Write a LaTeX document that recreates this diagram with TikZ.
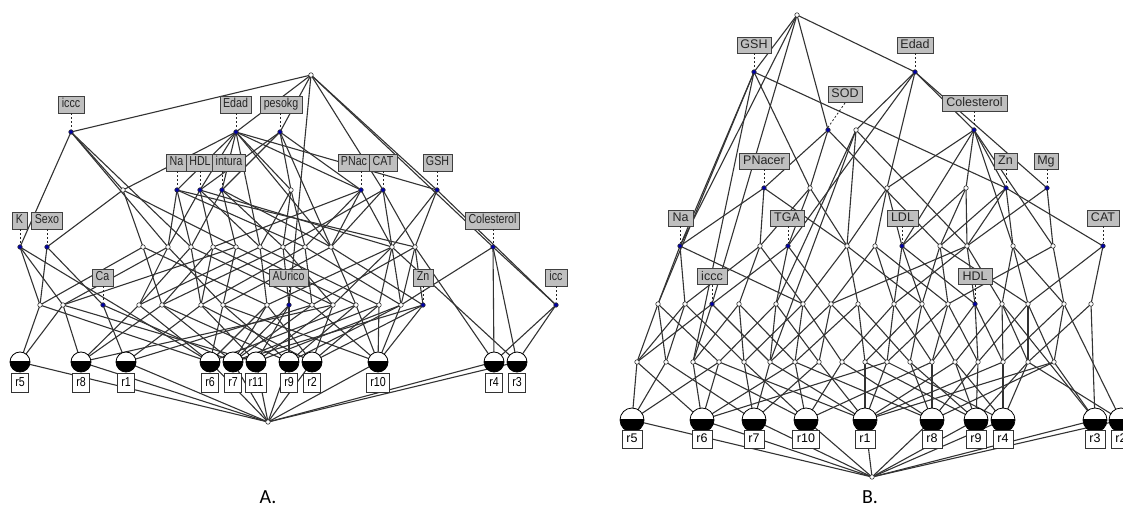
\documentclass[tikz,border=0pt]{standalone}
\usepackage{fontspec}
\setmainfont{Liberation Sans}
\newfontfamily\narrowfont[FakeStretch=0.82]{Liberation Sans}
\newfontfamily\capfont{Carlito}
\usetikzlibrary{backgrounds}

\tikzset{
  edge/.style={draw=black!80, line width=1.1pt},
  cn/.style={circle, draw=black!80, fill=white, inner sep=0pt, minimum size=4.5pt, line width=0.6pt},
  an/.style={cn, fill=blue!65!black},
  albl/.style={draw=black!75, fill=black!25, line width=0.9pt, inner xsep=3pt, inner ysep=0pt,
    minimum height=17pt, text height=9pt, text depth=2pt,
    font=\narrowfont\fontsize{13}{14}\selectfont, text=black!85},
  blbl/.style={albl, minimum height=16pt, font=\fontsize{12.5}{13}\selectfont},
  aobj/.style={circle, draw=black, fill=white, minimum size=20pt, inner sep=0pt, line width=0.8pt,
    path picture={\fill[black] ([yshift=1pt]path picture bounding box.west) rectangle (path picture bounding box.south east);}},
  bobj/.style={aobj, minimum size=24pt},
  aolbl/.style={draw=black!80, fill=white, line width=0.9pt, inner xsep=3.5pt, inner ysep=0pt,
    minimum height=19pt, text height=9pt, text depth=2pt,
    font=\narrowfont\fontsize{13}{14}\selectfont},
  bolbl/.style={aolbl, minimum height=18pt, inner xsep=4.5pt, font=\fontsize{12.5}{13}\selectfont},
  tag/.style={draw=black!85, line width=0.8pt, dash pattern=on 2pt off 2pt},
}

\begin{document}
\begin{tikzpicture}[x=1pt, y=-1pt]
\useasboundingbox (0,0) rectangle (1123,518);
\clip (0,0) rectangle (1123,518);

% ---------------- lattice A ----------------
\node[cn] (At) at (311,75) {};
\node[an] (Ai) at (71,132) {};
\node[an] (Ae) at (236,132) {};
\node[an] (Ap) at (280,132) {};
\foreach \n/\x/\s in {Ab1/123/cn, ANa/177/an, AHD/200/an, ACi/222/an, Ab5/291/cn,
    APN/361/an, ACA/383/an, AGS/437/an}
  \node[\s] (\n) at (\x,190) {};
\foreach \n/\x/\s in {AK/20/an, ASx/47/an, Ac1/143/cn, Ac2/168/cn, Ac3/191/cn, Ac4/213/cn,
    Ac5/236/cn, Ac6/260/cn, Ac7/283/cn, Ac8/305/cn, Ac9/331/cn, Ac10/392/cn, Ac11/415/cn, ACo/493/an}
  \node[\s] (\n) at (\x,247) {};
\foreach \n/\x/\s in {Ad1/40/cn, Ad2/63/cn, ACa/103/an, Ad3/139/cn, Ad4/162/cn, Ad5/201/cn,
    Ad6/223/cn, Ad7/267/cn, AAU/289/an, Ad8/312/cn, Ad9/333/cn, Ad10/356/cn, Ad11/379/cn,
    Ad12/401/cn, AZn/423/an, Aic/556/an}
  \node[\s] (\n) at (\x,305) {};
\foreach \n/\x in {Ar5/20, Ar8/81, Ar1/126, Ar6/210, Ar7/233, Ar11/256, Ar9/289, Ar2/312,
    Ar10/378, Ar4/494, Ar3/517}
  \node[aobj] (\n) at (\x,362) {};
\node[cn] (Abot) at (268,422) {};

% ---------------- lattice B ----------------
\node[cn] (Bt) at (797,15) {};
\node[an] (BG) at (754,72) {};
\node[an] (BE) at (915,72) {};
\node[an] (BS) at (828,130) {};
\node[cn] (Bu1) at (856,130) {};
\node[an] (BCo) at (974,130) {};
\foreach \n/\x/\s in {BPN/764/an, Bv1/810/cn, Bv2/887/cn, Bv3/966/cn, BZn/1006/an, BMg/1047/an}
  \node[\s] (\n) at (\x,188) {};
\foreach \n/\x/\s in {BNa/680/an, Bw1/760/cn, BTG/788/an, Bw2/847/cn, Bw3/875/cn, BLD/902/an,
    Bw4/940/cn, Bw5/967/cn, Bw6/1013/cn, Bw7/1053/cn, BCA/1103/an}
  \node[\s] (\n) at (\x,246) {};
\foreach \n/\x/\s in {Bx1/658/cn, Bx2/685/cn, Bic/712/an, Bx3/739/cn, Bx4/776/cn, Bx5/803/cn,
    Bx6/831/cn, Bx7/858/cn, Bx8/894/cn, Bx9/922/cn, Bx10/948/cn, BHD/975/an, Bx11/1002/cn,
    Bx12/1028/cn, Bx13/1064/cn, Bx14/1091/cn}
  \node[\s] (\n) at (\x,304) {};
\foreach \n/\x in {By1/637, By2/666, By3/693, By4/719, By5/744, By6/770, By7/795, By8/819,
    By9/842, By10/865, By11/887, By12/910, By13/932, By14/955, By15/978, By16/1003,
    By17/1028, By18/1054}
  \node[cn] (\n) at (\x,362) {};
\foreach \n/\x in {Br5/632, Br6/702, Br7/754, Br10/806, Br1/865, Br8/932, Br9/976, Br4/1003,
    Br3/1095, Br2/1121}
  \node[bobj] (\n) at (\x,420) {};
\node[cn] (Bbot) at (872,477) {};

% ---------------- connectors ----------------
\begin{pgfonlayer}{background}
\foreach \u/\v in {
  At/Ai, At/Ae, At/Ap, At/AAU, At/ACA, At/AGS, At/ACo,
  Ai/AK, Ai/Ab1, Ai/Ac2, Ai/Ac3,
  Ae/Ab1, Ae/ANa, Ae/AHD, Ae/ACi, Ae/Ab5, Ae/APN, Ae/AGS, Ae/Ac6, Ae/Ac9,
  Ap/AHD, Ap/ACi, Ap/Ab5, Ap/Ac9, Ap/APN,
  Ab1/ASx, Ab1/Ac1, Ab1/Ac5,
  ANa/Ac2, ANa/Ac3, ANa/Ac8, ANa/Ac11,
  AHD/Ac2, AHD/Ac4, AHD/Ac6, AHD/Ac10,
  ACi/Ac3, ACi/Ac5, ACi/Ac7, ACi/Ac9,
  Ab5/Ac6, Ab5/Ac7, Ab5/Ac8,
  APN/Ac4, APN/Ac8, APN/Ac9, APN/Ac10,
  ACA/Ac7, ACA/Ac9, ACA/Ac11, ACA/Ad12,
  AGS/Ac10, AGS/Ac11, AGS/Aic,
  AK/Ad1, AK/Ad2, AK/Ar6,
  ASx/ACa, ASx/Ad1,
  Ac1/Ad1, Ac1/Ad4, Ac1/Ad7,
  Ac2/Ad2, Ac2/Ad3, Ac2/Ad6,
  Ac3/Ad3, Ac3/Ad5, Ac3/Ad8,
  Ac4/Ad4, Ac4/Ad5, Ac4/Ad9,
  Ac5/Ad2, Ac5/Ad6, Ac5/Ad10,
  Ac6/Ad3, Ac6/Ad7, Ac6/Ad11,
  Ac7/Ad4, Ac7/AAU, Ac7/Ad9,
  Ac8/Ad5, Ac8/Ad8, Ac8/Ad12,
  Ac9/Ad6, Ac9/Ad10, Ac9/AZn,
  Ac10/Ad7, Ac10/Ad9, Ac10/Ad11, Ac10/Ar3,
  Ac11/Ad8, Ac11/Ad12, Ac11/AZn, Ac11/Ar4,
  ACo/Ad12, ACo/Aic, ACo/Ar4, ACo/Ar3,
  Ad1/Ar5, Ad1/Ar6,
  Ad2/Ar5, Ad2/Ar8, Ad2/Ar11,
  ACa/Ar1, ACa/Ar7,
  Ad3/Ar8, Ad3/Ar6,
  Ad4/Ar8, Ad4/Ar7, Ad4/Ar9,
  Ad5/Ar1, Ad5/Ar11, Ad5/Ar2,
  Ad6/Ar6, Ad6/Ar9, Ad6/Ar10,
  Ad7/Ar6, Ad7/Ar7, Ad7/Ar2,
  AAU/Ar9, AAU/Ar7, AAU/Ar11,
  Ad8/Ar1, Ad8/Ar7, Ad8/Ar10,
  Ad9/Ar8, Ad9/Ar11, Ad9/Ar2,
  Ad10/Ar6, Ad10/Ar9, Ad10/Ar10,
  Ad11/Ar7, Ad11/Ar2, Ad11/Ar10,
  Ad12/Ar11, Ad12/Ar10, Ad12/Ar9,
  AZn/Ar2, AZn/Ar10, AZn/Ar7,
  Aic/Ar4, Aic/Ar3,
  Ar5/Abot, Ar8/Abot, Ar1/Abot, Ar6/Abot, Ar7/Abot, Ar11/Abot, Ar9/Abot, Ar2/Abot,
  Ar10/Abot, Ar4/Abot, Ar3/Abot}
  \draw[edge] (\u.center) -- (\v.center);
\foreach \u/\v in {
  Bt/BG, Bt/BE, Bt/BS, Bt/BNa, Bt/Bic,
  BG/BNa, BG/Bx1, BG/Bv1, BG/BZn, BG/By3,
  BE/BCo, BE/BMg, BE/Bu1, BE/BTG, BE/Bv2,
  BS/BPN, BS/Bv1, BS/Bw4,
  Bu1/Bx4, Bu1/By6, Bu1/Bw5, Bu1/Bw2,
  BCo/Bv2, BCo/BLD, BCo/Bv3, BCo/Bw6, BCo/Bw7, BCo/BZn,
  BPN/BNa, BPN/Bw1, BPN/Bw2,
  Bv1/BTG, Bv1/Bw2, Bv1/Bw1,
  Bv2/Bw3, Bv2/BLD, Bv2/Bw2,
  Bv3/Bw4, Bv3/Bw5, Bv3/BLD,
  BZn/Bw5, BZn/Bw4, BZn/Bw6, BZn/BCA,
  BMg/Bw7, BMg/Bw5,
  BNa/Bx1, BNa/Bx2, BNa/Bx5,
  Bw1/Bx2, Bw1/Bx3, Bw1/Bx5,
  BTG/Bic, BTG/Bx4, BTG/Bx6,
  Bw2/Bx5, Bw2/Bx7, Bw2/Bx9,
  Bw3/Bx6, Bw3/Bx8, Bw3/Bx10,
  BLD/Bx8, BLD/Bx9, BLD/BHD,
  Bw4/Bx9, Bw4/Bx10, Bw4/Bx12,
  Bw5/Bx8, Bw5/BHD, Bw5/Bx11, Bw5/Bx6,
  Bw6/Bx11, Bw6/Bx12, Bw6/Bx13,
  Bw7/Bx13, Bw7/Bx10,
  BCA/Bx14, BCA/Bx12,
  Bx1/By1, Bx1/By2, Bx1/By4,
  Bx2/By2, Bx2/By5, Bx2/By1,
  Bic/By1, Bic/By3, Bic/By6,
  Bx3/By3, Bx3/By5, Bx3/By7,
  Bx4/By4, Bx4/By6, Bx4/By8,
  Bx5/By5, Bx5/By7, Bx5/By9,
  Bx6/By6, Bx6/By8, Bx6/By11,
  Bx7/By7, Bx7/By10, Bx7/By12,
  Bx8/By9, Bx8/By11, Bx8/By13,
  Bx9/By10, Bx9/By12, Bx9/By14,
  Bx10/By11, Bx10/By13, Bx10/By15,
  BHD/By13, BHD/By15, BHD/By16,
  Bx11/By14, Bx11/By16, Bx11/By17, Bx11/Br3,
  Bx12/By15, Bx12/By17, Bx12/By18,
  Bx13/By16, Bx13/By18, Bx13/Br2,
  Bx14/Br3, Bx14/By17,
  By1/Br5, By1/Br6,
  By2/Br5, By2/Br7,
  By3/Br6, By3/Br10,
  By4/Br5, By4/Br6, By4/Br1,
  By5/Br7, By5/Br10,
  By6/Br7, By6/Br1,
  By7/Br6, By7/Br10, By7/Br8,
  By8/Br7, By8/Br1,
  By9/Br10, By9/Br8,
  By10/Br1, By10/Br9,
  By11/Br6, By11/Br1, By11/Br4,
  By12/Br8, By12/Br9,
  By13/Br8, By13/Br10,
  By14/Br1, By14/Br4, By14/Br9,
  By15/Br9, By15/Br8,
  By16/Br4, By16/Br1,
  By17/Br4, By17/Br2, By17/Br9,
  By18/Br8, By18/Br3, By18/Br1,
  Br5/Bbot, Br6/Bbot, Br7/Bbot, Br10/Bbot, Br1/Bbot, Br8/Bbot, Br9/Bbot, Br4/Bbot,
  Br3/Bbot, Br2/Bbot}
  \draw[edge] (\u.center) -- (\v.center);
\end{pgfonlayer}

% ---------------- attribute labels A ----------------
\node[albl, minimum width=26pt] (Lai) at (71,104.5) {iccc};
\node[albl, minimum width=29pt] (Lae) at (235.5,104.5) {Edad};
\node[albl, minimum width=42pt] (Lap) at (281,104.5) {pesokg};
\node[albl, minimum width=19pt] (Lana) at (176.5,162.5) {Na};
\node[albl, minimum width=28pt] (Lahd) at (200,162.5) {HDL};
\node[albl, minimum width=30pt] (Laci) at (229,162.5) {intura};
\node[albl, minimum width=30pt] (Lapn) at (354,162.5) {PNac};
\node[albl, minimum width=28pt] (Laca) at (383,162.5) {CAT};
\node[albl, minimum width=29pt] (Lags) at (437.5,162.5) {GSH};
\node[albl, minimum width=15pt] (Lak) at (19.5,220.5) {K};
\node[albl, minimum width=30pt] (Lasx) at (47,220.5) {Sexo};
\node[albl, minimum width=53pt] (Laco) at (492.5,220.5) {Colesterol};
\node[albl, minimum width=21pt] (Laca2) at (102.5,277.5) {Ca};
\node[albl, minimum width=39pt] (Laau) at (288.5,277.5) {AUrico};
\node[albl, minimum width=20pt] (Lazn) at (423,277.5) {Zn};
\node[albl, minimum width=22pt] (Laic) at (556,277.5) {icc};
\foreach \l/\n in {Lai/Ai, Lae/Ae, Lap/Ap, Lana/ANa, Lahd/AHD, Laci/ACi, Lapn/APN, Laca/ACA,
    Lags/AGS, Lak/AK, Lasx/ASx, Laco/ACo, Laca2/ACa, Laau/AAU, Lazn/AZn, Laic/Aic}
  \draw[tag] (\l.south -| \n) -- (\n.north);

% ---------------- object labels A ----------------
\foreach \n/\t in {Ar5/r5, Ar8/r8, Ar1/r1, Ar6/r6, Ar7/r7, Ar11/r11, Ar9/r9, Ar2/r2, Ar10/r10,
    Ar4/r4, Ar3/r3}
  \node[aolbl] (L\n) at ([yshift=-20.5pt]\n.center) {\t};

% ---------------- attribute labels B ----------------
\node[blbl, minimum width=34pt] (Lbg) at (754,45) {GSH};
\node[blbl, minimum width=36pt] (Lbe) at (915,45) {Edad};
\node[blbl, minimum width=34pt] (Lbs) at (845,94.5) {SOD};
\node[blbl, minimum width=65pt] (Lbco) at (974.5,103) {Colesterol};
\node[blbl, minimum width=50pt] (Lbpn) at (764,161) {PNacer};
\node[blbl, minimum width=23pt] (Lbzn) at (1005.5,161) {Zn};
\node[blbl, minimum width=24pt] (Lbmg) at (1046,161) {Mg};
\node[blbl, minimum width=25pt] (Lbna) at (680.5,218) {Na};
\node[blbl, minimum width=34pt] (Lbtg) at (787,218) {TGA};
\node[blbl, minimum width=31pt] (Lbld) at (902.5,218) {LDL};
\node[blbl, minimum width=32pt] (Lbca) at (1103,218) {CAT};
\node[blbl, minimum width=30pt] (Lbic) at (712,276.5) {iccc};
\node[blbl, minimum width=34pt] (Lbhd) at (975,276.5) {HDL};
\foreach \l/\n in {Lbg/BG, Lbe/BE, Lbco/BCo, Lbpn/BPN, Lbzn/BZn, Lbmg/BMg, Lbna/BNa,
    Lbtg/BTG, Lbld/BLD, Lbca/BCA, Lbic/Bic, Lbhd/BHD}
  \draw[tag] (\l.south -| \n) -- (\n.north);
\draw[tag] (Lbs.south) -- (BS.north);

% ---------------- object labels B ----------------
\foreach \n/\t in {Br5/r5, Br6/r6, Br7/r7, Br10/r10, Br1/r1, Br8/r8, Br9/r9, Br4/r4,
    Br3/r3, Br2/r2}
  \node[bolbl] (L\n) at ([yshift=-19pt]\n.center) {\t};

% ---------------- captions ----------------
\node[font=\capfont\fontsize{20}{20}\selectfont] (capA) at (268,497) {A.};
\node[font=\capfont\fontsize{20}{20}\selectfont] (capB) at (870,497) {B.};
\end{tikzpicture}
\end{document}
